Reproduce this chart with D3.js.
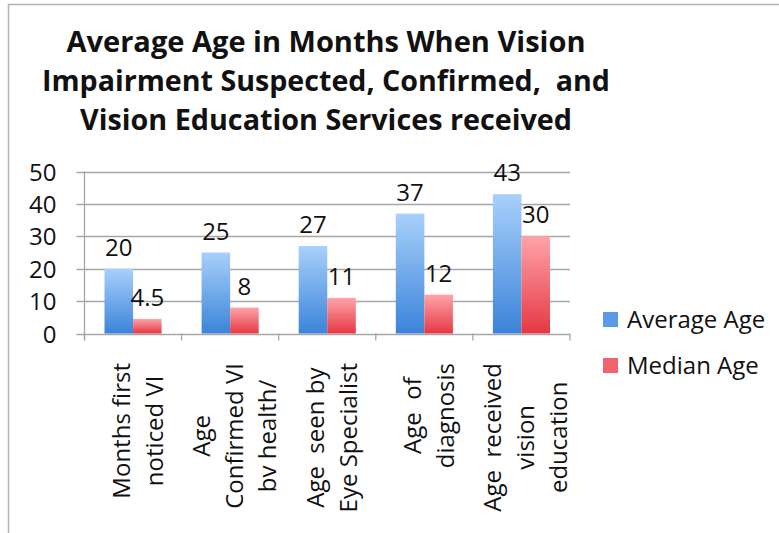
<!DOCTYPE html>
<html>
<head>
<meta charset="utf-8">
<script src="https://cdn.jsdelivr.net/npm/d3@7"></script>
<style>
  body { margin: 0; background: #fff; }
  text { font-family: "Open Sans", sans-serif; fill: #111; white-space: pre; }
</style>
</head>
<body>
<div id="chart"></div>
<script>
// data
const categories = [
  ["Months first", "noticed VI"],
  ["Age", "Confirmed VI", "bv health/"],
  ["Age  seen by", "Eye Specialist"],
  ["Age  of", "diagnosis"],
  ["Age  received", "vision", "education"]
];
const averageAge = [20, 25, 27, 37, 43];
const medianAge = [4.5, 8, 11, 12, 30];
const valueLabels = [["20", "4.5"], ["25", "8"], ["27", "11"], ["37", "12"], ["43", "30"]];
const seriesNames = ["Average Age", "Median Age"];
const yTicks = [0, 10, 20, 30, 40, 50];
const titleLines = [
  "Average Age in Months When Vision",
  "Impairment Suspected, Confirmed,  and",
  "Vision Education Services received"
];

// size
const width = 779;
const height = 533;
const plot = { left: 84.5, right: 570, top: 171.5, bottom: 333.5 };

const svg = d3.select("#chart").append("svg")
  .attr("width", width)
  .attr("height", height);

// gradients
const defs = svg.append("defs");
const grads = [
  { id: "gBlue", top: "#a8d0fb", bottom: "#3b84d9" },
  { id: "gRed", top: "#ffa3aa", bottom: "#e53843" }
];
grads.forEach(g => {
  const lg = defs.append("linearGradient").attr("id", g.id)
    .attr("x1", 0).attr("y1", 0).attr("x2", 0).attr("y2", 1);
  lg.append("stop").attr("offset", "0%").attr("stop-color", g.top);
  lg.append("stop").attr("offset", "100%").attr("stop-color", g.bottom);
});
const fills = ["url(#gBlue)", "url(#gRed)"];
const swatchFills = ["#5b9be6", "#f0626c"];

// frame
svg.append("rect")
  .attr("x", 8.5).attr("y", 4.5)
  .attr("width", 800).attr("height", 560)
  .attr("fill", "none").attr("stroke", "#b4b4b4").attr("stroke-width", 1.5);

// title
const titleWidths = [519, 568, 492];
svg.append("g").selectAll("text")
  .data(titleLines)
  .join("text")
  .attr("x", 326)
  .attr("y", (d, i) => 52 + i * 39)
  .attr("text-anchor", "middle")
  .attr("font-size", 29)
  .attr("font-weight", "bold")
  .attr("textLength", (d, i) => titleWidths[i])
  .attr("lengthAdjust", "spacingAndGlyphs")
  .text(d => d);

//scale
const xScale = d3.scaleBand()
  .domain(d3.range(categories.length))
  .range([plot.left, plot.right])
  .padding(0);

const gap = 20;
const xInner = d3.scaleBand()
  .domain([0, 1])
  .range([gap, xScale.bandwidth() - gap])
  .padding(0);

const yScale = d3.scaleLinear()
  .domain([0, 50])
  .range([plot.bottom, plot.top]);

// gridlines
svg.append("g")
  .selectAll("line")
  .data(yTicks)
  .join("line")
  .attr("x1", plot.left - 8)
  .attr("x2", plot.right)
  .attr("y1", d => Math.round(yScale(d)) + 0.5)
  .attr("y2", d => Math.round(yScale(d)) + 0.5)
  .attr("stroke", "#a6a6a6")
  .attr("stroke-width", 1.3);

// y axis
svg.append("g")
  .attr("transform", `translate(${plot.left},0)`)
  .call(d3.axisLeft(yScale).tickValues(yTicks).tickSize(0).tickPadding(28))
  .call(g => {
    g.select(".domain").remove();
    g.selectAll("text")
      .attr("font-family", "Open Sans, sans-serif")
      .attr("font-size", 24)
      .attr("fill", "#111")
      .attr("dy", "0.36em");
  });

svg.append("line")
  .attr("x1", plot.left).attr("x2", plot.left)
  .attr("y1", plot.top).attr("y2", plot.bottom + 7)
  .attr("stroke", "#a6a6a6").attr("stroke-width", 1.3);

// x axis ticks on category boundaries
const bounds = d3.range(categories.length + 1).map(i =>
  i < categories.length ? xScale(i) : plot.right);
svg.append("g")
  .selectAll("line")
  .data(bounds)
  .join("line")
  .attr("x1", d => d).attr("x2", d => d)
  .attr("y1", plot.bottom).attr("y2", plot.bottom + 7)
  .attr("stroke", "#a6a6a6").attr("stroke-width", 1.3);

// bars
const series = [averageAge, medianAge];
const barG = svg.append("g");
series.forEach((vals, s) => {
  barG.append("g")
    .selectAll("rect")
    .data(vals)
    .join("rect")
    .attr("x", (d, i) => xScale(i) + xInner(s))
    .attr("y", d => yScale(d))
    .attr("width", xInner.bandwidth())
    .attr("height", d => plot.bottom - yScale(d))
    .attr("fill", fills[s]);

  barG.append("g")
    .selectAll("text")
    .data(vals)
    .join("text")
    .attr("x", (d, i) => xScale(i) + xInner(s) + xInner.bandwidth() / 2)
    .attr("y", d => yScale(d) - 13)
    .attr("text-anchor", "middle")
    .attr("font-size", 24)
    .text((d, i) => valueLabels[i][s]);
});

// category labels, rotated
const labelG = svg.append("g");
categories.forEach((lines, i) => {
  const cx = xScale(i) + xScale.bandwidth() / 2;
  const g = labelG.append("g");
  const texts = g.selectAll("text")
    .data(lines)
    .join("text")
    .attr("font-size", 24)
    .attr("text-anchor", "middle")
    .text(d => d);
  let maxLen = 0;
  texts.each(function () { maxLen = Math.max(maxLen, this.getComputedTextLength()); });
  const cy = 363 + maxLen / 2;
  texts.attr("transform", (d, j) => {
    const x = cx + (j - (lines.length - 1) / 2) * 33 + 13;
    return `translate(${x},${cy}) rotate(-90)`;
  });
});

// legend
const legend = svg.append("g");
seriesNames.forEach((name, s) => {
  const y = 312 + s * 46;
  legend.append("rect")
    .attr("x", 603).attr("y", y)
    .attr("width", 15).attr("height", 15)
    .attr("fill", swatchFills[s]);
  legend.append("text")
    .attr("x", 627).attr("y", y + 16)
    .attr("font-size", 24)
    .text(name);
});
</script>
</body>
</html>
